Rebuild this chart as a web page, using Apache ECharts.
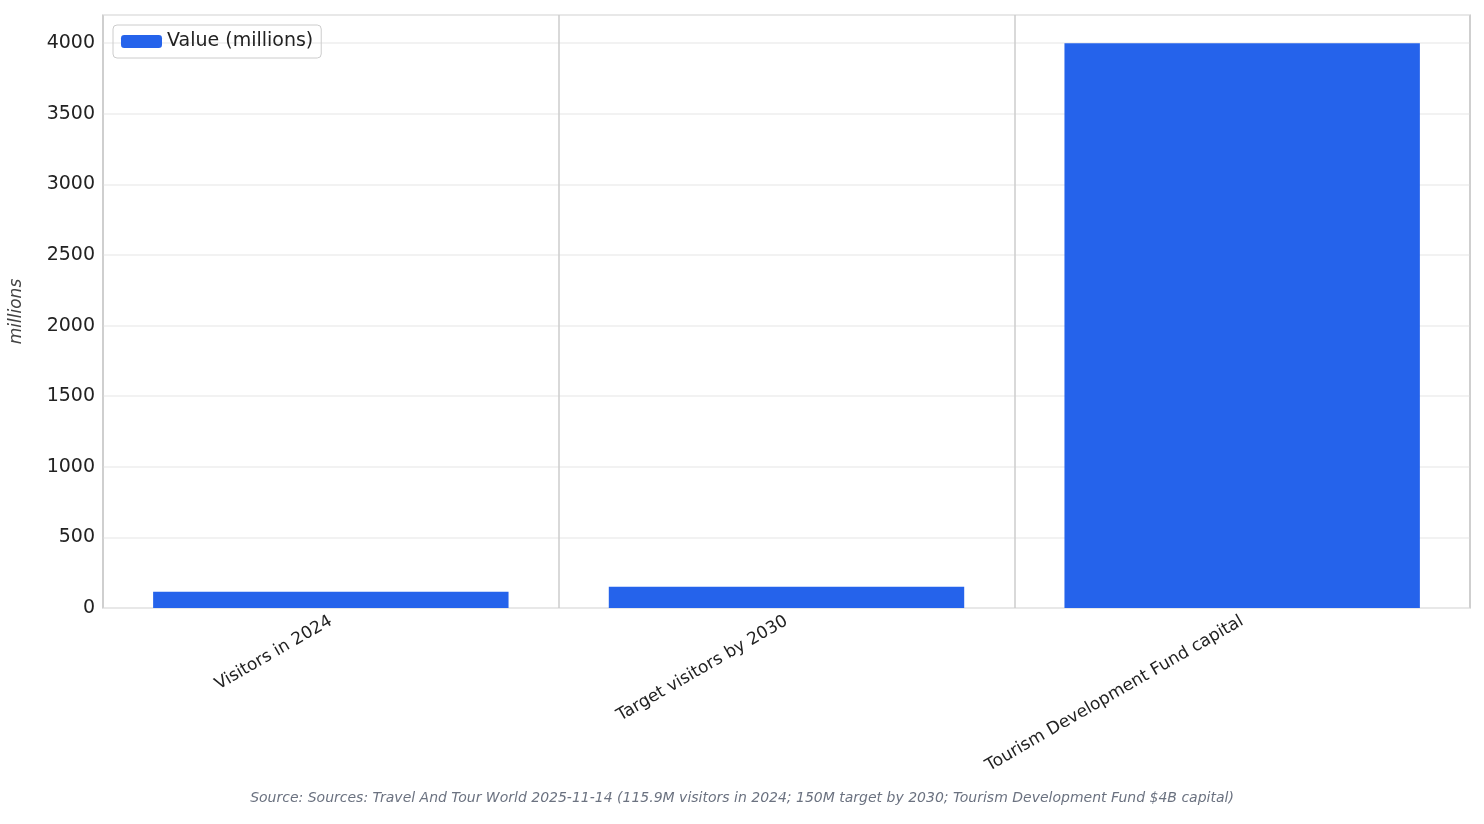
<!DOCTYPE html>
<html>
<head>
<meta charset="utf-8">
<script src="https://cdn.jsdelivr.net/npm/echarts@6/dist/echarts.min.js"></script>
<style>html,body{margin:0;padding:0;background:#fff}#chart{width:1484px;height:824px}</style>
</head>
<body>
<div id="chart"></div>
<script>
// data
const categories = ['Visitors in 2024', 'Target visitors by 2030', 'Tourism Development Fund capital']
const values = [115.9, 150, 4000]
const seriesName = 'Value (millions)'
const sourceText = 'Source: Sources: Travel And Tour World 2025-11-14 (115.9M visitors in 2024; 150M target by 2030; Tourism Development Fund $4B capital)'

const font = 'DejaVu Sans'
const chart = echarts.init(document.getElementById('chart'))

chart.setOption({
    animation: false,
    textStyle: {fontFamily: font},
    grid: {
        left: 103, right: 14, top: 15, bottom: 216,
        show: true, borderColor: '#cccccc', borderWidth: 1.5
    },
    legend: {
        left: 113, top: 25,
        padding: [7, 8, 7, 8],
        borderColor: '#cccccc', borderWidth: 1, borderRadius: 4,
        itemWidth: 41, itemHeight: 13, itemGap: 10,
        textStyle: {fontSize: 19, color: '#222', fontFamily: font},
        data: [seriesName]
    },
    title: {
        text: sourceText,
        left: 'center', bottom: 14,
        textStyle: {fontSize: 14, fontStyle: 'italic', fontWeight: 'normal', color: '#6b7280', fontFamily: font}
    },
    xAxis: {
        type: 'category',
        data: categories,
        axisLine: {show: false},
        axisTick: {show: false},
        splitLine: {show: true, lineStyle: {color: '#cccccc', width: 1.5}},
        axisLabel: {
            rotate: 30, fontSize: 17, color: '#222', margin: 12, interval: 0,
            fontFamily: font
        }
    },
    yAxis: {
        type: 'value',
        min: 0, max: 4200, interval: 500,
        name: 'millions',
        nameLocation: 'middle',
        nameGap: 78,
        nameTextStyle: {fontSize: 17, fontStyle: 'italic', color: '#444', fontFamily: font},
        axisLine: {show: false},
        axisTick: {show: false},
        splitLine: {lineStyle: {color: '#eeeeee', width: 1.5}},
        axisLabel: {
            fontSize: 19, color: '#222', margin: 8, fontFamily: font,
            formatter: v => (v % 500 === 0 ? String(v) : '')
        }
    },
    series: [{
        name: seriesName,
        type: 'bar',
        data: values,
        barCategoryGap: '22%',
        itemStyle: {color: '#2563eb'}
    }]
})
</script>
</body>
</html>
